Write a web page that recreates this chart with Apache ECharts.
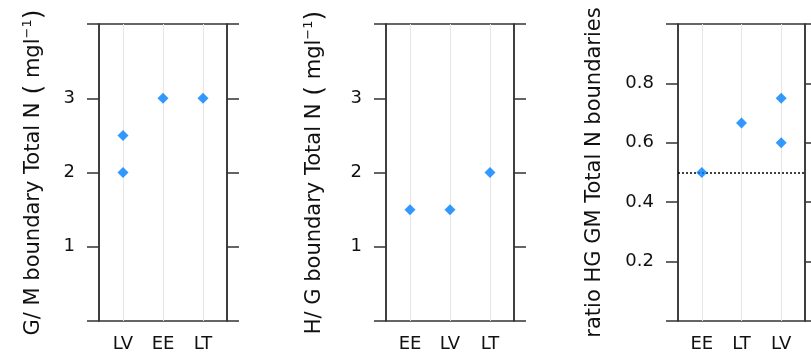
<!DOCTYPE html>
<html><head><meta charset="utf-8">
<script src="https://cdn.jsdelivr.net/npm/echarts@6/dist/echarts.min.js"></script>
<style>html,body{margin:0;padding:0;background:#fff}#c{width:811px;height:358px}</style>
</head><body><div id="c"></div>
<script>
// Panel 1: G/M boundary
const cats1 = ['LV', 'EE', 'LT'];
const pts1 = [['LV', 2.5], ['LV', 2.0], ['EE', 3.0], ['LT', 3.0]];
const yTicks1 = [1, 2, 3];
// Panel 2: H/G boundary
const cats2 = ['EE', 'LV', 'LT'];
const pts2 = [['EE', 1.5], ['LV', 1.5], ['LT', 2.0]];
const yTicks2 = [1, 2, 3];
// Panel 3: ratio HG/GM
const cats3 = ['EE', 'LT', 'LV'];
const pts3 = [['EE', 0.5], ['LT', 0.667], ['LV', 0.75], ['LV', 0.6]];
const yTicks3 = [0.2, 0.4, 0.6, 0.8];
const refLine3 = 0.5;

const FONT = 'DejaVu Sans';
const TXT = '#111';
const AX = '#333';
const grids = [
  {left: 99, top: 24, width: 128, height: 297},
  {left: 386, top: 24, width: 128, height: 297},
  {left: 678, top: 24, width: 127, height: 297}
];
const panels = [
  {cats: cats1, pts: pts1, max: 4, interval: 1, ticks: yTicks1, gap: 52,
   name: '{t|G/ M boundary Total N}{p| (}{t| mgl}{s|−1}{p|)}'},
  {cats: cats2, pts: pts2, max: 4, interval: 1, ticks: yTicks2, gap: 58,
   name: '{t|H/ G boundary Total N}{p| (}{t| mgl}{s|−1}{p|)}'},
  {cats: cats3, pts: pts3, max: 1, interval: 0.2, ticks: yTicks3, gap: 70,
   name: '{t|ratio HG GM Total N boundaries}'}
];
const richName = {
  t: {fontSize: 21, fontFamily: FONT, color: TXT, lineHeight: 26},
  p: {fontSize: 25, fontFamily: FONT, color: TXT, lineHeight: 26},
  s: {fontSize: 13, fontFamily: FONT, color: TXT, lineHeight: 26, verticalAlign: 'top', padding: [0, 0, 10, 0]}
};

const xAxis = [], yAxis = [], series = [];
panels.forEach((p, i) => {
  xAxis.push({
    type: 'value', gridIndex: i, min: 0.4, max: 3.6,
    axisLine: {show: false}, axisTick: {show: false}, splitLine: {show: false},
    axisLabel: {customValues: [1, 2, 3], margin: 14, fontSize: 18, fontFamily: FONT, color: TXT,
      formatter: v => p.cats[Math.round(v) - 1] || ''}
  });
  const yBase = {
    type: 'value', gridIndex: i, min: 0, max: p.max, interval: p.interval,
    splitLine: {show: false},
    axisLine: {show: true, lineStyle: {color: AX, width: 1.5}},
    axisTick: {show: true, inside: false, length: 12, lineStyle: {color: AX, width: 1.5}}
  };
  yAxis.push(Object.assign({}, yBase, {
    position: 'left',
    name: p.name, nameLocation: 'middle', nameRotate: 90, nameGap: p.gap,
    nameTextStyle: {rich: richName},
    axisLabel: {margin: 24, fontSize: 18, fontFamily: FONT, color: TXT,
      formatter: v => (p.ticks.some(t => Math.abs(t - v) < 1e-9) ? String(v) : '')}
  }));
  yAxis.push(Object.assign({}, yBase, {
    position: 'right', axisLabel: {show: false}
  }));
  const ml = {
    silent: true, symbol: ['none', 'none'], label: {show: false},
    lineStyle: {color: '#e6e6e6', width: 1, type: 'solid'},
    data: p.cats.map((c, k) => ({xAxis: k + 1}))
  };
  if (i === 2) {
    ml.data.push({yAxis: refLine3, lineStyle: {color: '#000', width: 1.5, type: [2, 2]}});
  }
  series.push({
    type: 'scatter', xAxisIndex: i, yAxisIndex: 2 * i,
    symbol: 'diamond', symbolSize: [11, 11],
    itemStyle: {color: '#0080ff'},
    data: p.pts.map(d => [p.cats.indexOf(d[0]) + 1, d[1]]),
    markLine: ml, z: 5
  });
});

const chart = echarts.init(document.getElementById('c'), null, {renderer: 'canvas'});
chart.setOption({
  animation: false,
  grid: grids.map(g => Object.assign({show: true, borderColor: AX, borderWidth: 1.5, backgroundColor: 'transparent'}, g)),
  xAxis, yAxis, series
});
</script></body></html>
